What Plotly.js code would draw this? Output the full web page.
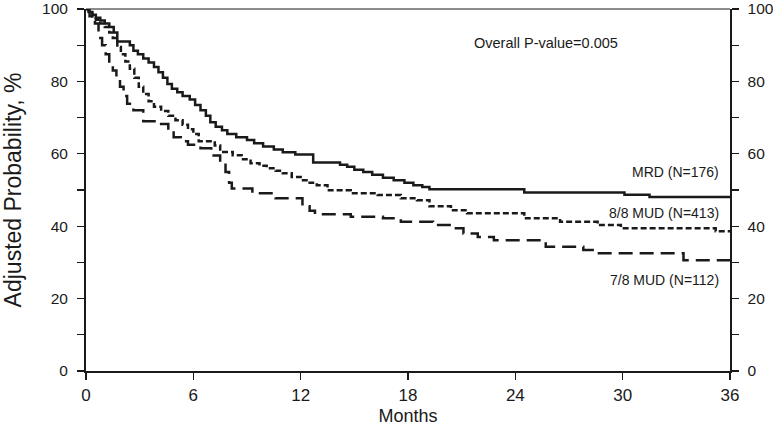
<!DOCTYPE html>
<html>
<head>
<meta charset="utf-8">
<script src="https://cdn.plot.ly/plotly-3.0.1.min.js"></script>
<style>html,body{margin:0;padding:0;background:#fff;}#chart{width:773px;height:426px;}</style>
</head>
<body>
<div id="chart"></div>
<script>
// Months and adjusted probability (%)
const mrdMonths = [0,0.15,0.35,0.55,0.8,1.05,1.3,1.55,1.75,2.45,2.65,2.9,3.2,3.5,3.8,4.05,4.3,4.55,4.8,5.1,5.4,5.8,6.1,6.4,6.7,6.95,7.25,7.6,7.9,8.4,9.0,9.4,9.9,10.5,11.0,11.7,12.7,14.2,14.6,15.0,15.5,16.0,16.6,17.2,17.8,18.3,18.8,19.2,24.5,30.1,31.5,36];
const mrdProb   = [100,99.2,98.4,97.6,96.8,96,95,93.5,91,90,88.5,87.5,86.3,85.2,84,82.5,81,79.3,78,77,76,75,73.5,72,70.5,68.7,67.5,66.5,65.5,64.6,63.8,62.9,62,61.2,60.4,59.8,57.6,57,56.4,55.6,55,54.2,53.4,52.7,52,51.3,50.8,50.2,49.3,48.7,48.1,48.1];

const mud88Months = [0,0.15,0.35,0.55,0.8,1.05,1.3,1.5,1.75,1.95,2.2,2.45,2.7,2.95,3.2,3.5,3.8,4.2,4.6,5.0,5.4,5.7,6.0,6.3,7.2,7.5,8.2,8.7,9.2,9.7,10.1,10.6,11.0,11.5,12.0,12.5,12.9,13.5,14.8,16.3,17.6,18.5,19.2,20.4,21.3,24.5,26.5,28.6,29.9,35.2,36];
const mud88Prob   = [100,99,98,97,96,95,93.5,92,89.5,87.5,85.5,83.5,81,78.5,76.5,74.5,73,71.8,70.5,69.3,68,66.8,65.5,63.5,62.3,60.5,59.6,58.5,57.4,56.7,56,55.3,54.6,53.6,52.7,52,51.3,49.9,49.1,48.6,47.7,47.2,45.5,44.4,43.6,42.2,41.2,40.3,39.4,38.6,38.6];

const mud78Months = [0,0.2,0.5,0.7,0.9,1.1,1.3,1.5,1.7,1.9,2.1,2.3,2.65,3.2,4.2,4.6,4.9,5.3,5.7,6.4,7.0,7.5,7.8,8.0,8.15,9.3,10.6,12.1,12.5,12.8,14.8,16.6,17.6,19.4,20.5,21.1,21.9,22.8,25.7,27.8,28.4,33.4,36];
const mud78Prob   = [100,98,96,92,90,87.5,85.5,83,81,78.5,76,73.8,72,69,68.2,66.5,64.6,63.5,62.5,61.5,59.5,57.5,55,52,50.4,49.1,47.7,45.5,44.3,43.3,42.6,42.2,41.2,40.3,39.4,38,37,36.1,34.3,33.4,32.5,30.6,30.6];

const xTicks = [0,6,12,18,24,30,36];
const yTicks = [0,20,40,60,80,100];
const seriesLabels = ["MRD (N=176)","8/8 MUD (N=413)","7/8 MUD (N=112)"];
const pValueText = "Overall P-value=0.005";

const ink = '#1a1a1a';
const sans = '"Liberation Sans", Arial, sans-serif';

const traces = [
  {x: mrdMonths, y: mrdProb, mode:'lines', line:{shape:'hv', color:ink, width:2.5}, name:seriesLabels[0]},
  {x: mud88Months, y: mud88Prob, mode:'lines', line:{shape:'hv', color:ink, width:2.5, dash:'6px,3px'}, name:seriesLabels[1]},
  {x: mud78Months, y: mud78Prob, mode:'lines', line:{shape:'hv', color:ink, width:2.5, dash:'14px,7px'}, name:seriesLabels[2]},
  {x: [0,36], y:[0,100], yaxis:'y2', mode:'none', hoverinfo:'skip', showlegend:false}
];

const yCommon = {
  range:[0,100], tickvals:yTicks, ticks:'outside', ticklen:7, tickwidth:1.2, tickcolor:ink,
  showline:true, linecolor:ink, showgrid:false, zeroline:false,
  tickfont:{family:sans, size:15.5, color:ink},
  ticklabelstandoff:6,
  minor:{tickvals:[10,30,50,70,90], ticks:'outside', ticklen:7, tickwidth:1.2, tickcolor:ink, showgrid:false},
  fixedrange:true
};

const layout = {
  width:773, height:426,
  margin:{l:86, r:43, t:9, b:55},
  paper_bgcolor:'#fff', plot_bgcolor:'#fff',
  showlegend:false,
  xaxis:{
    range:[0,36], tickvals:xTicks, ticks:'outside', ticklen:7, tickwidth:1.2, tickcolor:ink,
    showline:true, linecolor:ink, linewidth:2.2, showgrid:false, zeroline:false,
    tickfont:{family:sans, size:17, color:ink},
    title:{text:'Months', font:{family:sans, size:18, color:ink}, standoff:15}
  },
  yaxis:Object.assign({}, yCommon, {
    linewidth:2,
    title:{text:'Adjusted Probability, %', font:{family:sans, size:23, color:ink}, standoff:19}
  }),
  yaxis2:Object.assign({}, yCommon, {overlaying:'y', side:'right', linewidth:1.5}),
  shapes:[
    {type:'line', xref:'paper', yref:'paper', x0:0, x1:1, y0:1, y1:1, line:{color:ink, width:1.2}}
  ],
  annotations:[
    {x:25.7, y:90.5, text:pValueText, showarrow:false, font:{family:sans, size:14.5, color:ink}},
    {x:35.5, y:54.9, text:seriesLabels[0], xanchor:'right', showarrow:false, font:{family:sans, size:14, color:ink}},
    {x:35.5, y:43.6, text:seriesLabels[1], xanchor:'right', showarrow:false, font:{family:sans, size:14, color:ink}},
    {x:35.5, y:25.1, text:seriesLabels[2], xanchor:'right', showarrow:false, font:{family:sans, size:14, color:ink}}
  ]
};

Plotly.newPlot('chart', traces, layout, {staticPlot:true, displayModeBar:false});
</script>
</body>
</html>
